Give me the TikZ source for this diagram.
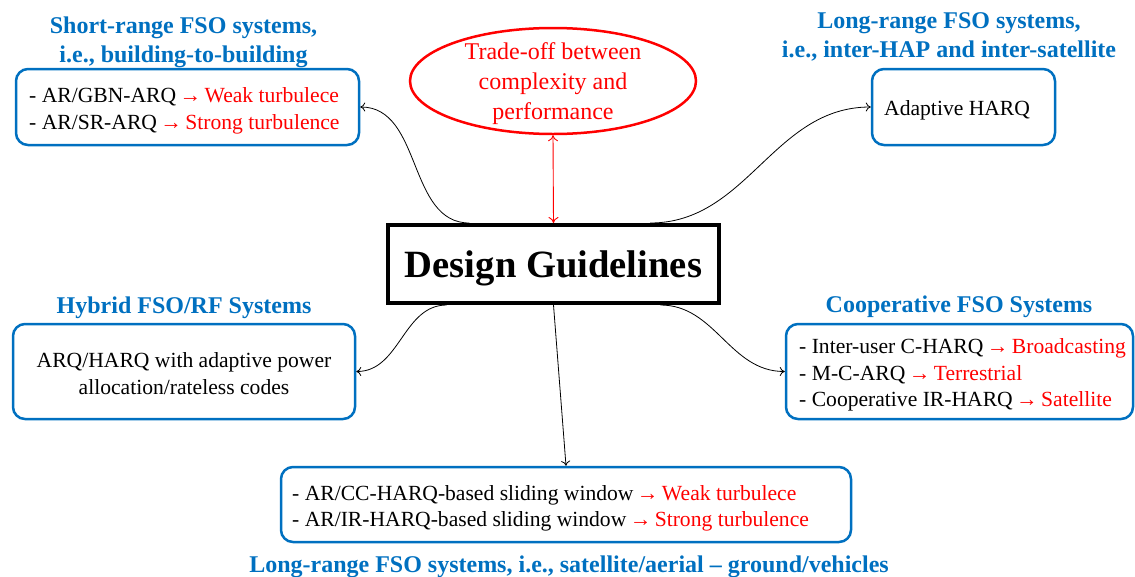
\documentclass[tikz,border=0pt]{standalone}
\usepackage{fontspec}
\setmainfont{Liberation Serif}
\usetikzlibrary{shapes.geometric,arrows.meta}
\definecolor{hblue}{RGB}{0,112,192}
\newcommand{\hot}[1]{\textcolor{red}{\kern-2pt→\kern-2pt\ #1}}

\begin{document}
\begin{tikzpicture}[x=1pt,y=-1pt,>={To[length=5pt,width=9pt]},
  box/.style={draw=hblue,line width=2.5pt,rounded corners=12pt},
  head/.style={text=hblue,font=\fontsize{24}{29}\selectfont\bfseries,align=center},
  body/.style={font=\fontsize{21.6}{26.5}\selectfont,align=left,inner sep=0pt}]
\useasboundingbox (0,0) rectangle (1135,576);
\node[head] (hsr) at (183.5,42.5) {Short-range FSO systems,\\i.e., building-to-building};
\node[head] (hlr) at (949,37) {Long-range FSO systems,\\i.e., inter-HAP and inter-satellite};
\node[head] (hhy) at (184,308) {Hybrid FSO/RF Systems};
\node[head] (hco) at (959,307) {Cooperative FSO Systems};
\node[head] (hgv) at (569,566.5) {Long-range FSO systems, i.e., satellite/aerial -- ground/vehicles};
\node[draw=red,line width=2.5pt,ellipse,minimum width=286pt,minimum height=106pt] (tr) at (553,81) {};
\node[text=red,align=center,font=\fontsize{24}{30}\selectfont] (trt) at ([yshift=-3pt]tr.center) {Trade-off between\\complexity and\\performance};
\node[draw,line width=4pt,minimum width=331pt,minimum height=78pt,text depth=0pt,font=\fontsize{38.6}{40}\selectfont\bfseries] (dg) at (553.5,264) {Design Guidelines};
\node[box,minimum width=343pt,minimum height=76pt] (sr) at (187.5,107) {};
\node[body,anchor=west] (srt) at ([xshift=14.25pt,yshift=-4pt]sr.west) {- AR/GBN-ARQ \hot{Weak turbulece}\\- AR/SR-ARQ \hot{Strong turbulence}};
\node[box,minimum width=183pt,minimum height=76pt] (lr) at (963.5,107) {};
\node[body,anchor=west] (lrt) at ([xshift=13.25pt,yshift=-3pt]lr.west) {Adaptive HARQ};
\node[box,minimum width=342pt,minimum height=95pt] (hy) at (184,371.5) {};
\node[body,align=center] (hyt) at ([yshift=-2pt]hy.center) {ARQ/HARQ with adaptive power\\allocation/rateless codes};
\node[box,minimum width=347pt,minimum height=95pt] (co) at (959.5,371.5) {};
\node[body,anchor=west] (cot) at ([xshift=14.25pt,yshift=-3.5pt]co.west) {- Inter-user C-HARQ \hot{Broadcasting}\\- M-C-ARQ \hot{Terrestrial}\\- Cooperative IR-HARQ \hot{Satellite}};
\node[box,minimum width=570pt,minimum height=75pt] (gv) at (566,504.5) {};
\node[body,anchor=west] (gvt) at ([xshift=12.25pt,yshift=-4pt]gv.west) {- AR/CC-HARQ-based sliding window \hot{Weak turbulece}\\- AR/IR-HARQ-based sliding window \hot{Strong turbulence}};
\draw[->,line width=0.8pt] (dg.154.7) to[out=180,in=0] (sr.east);
\draw[->,line width=0.8pt] (dg.23.3) to[out=0,in=180] (lr.west);
\draw[->,line width=0.8pt] (dg.201.8) to[out=180,in=0] (hy.east);
\draw[->,line width=0.8pt] (dg.339) to[out=0,in=180] (co.west);
\draw[->,line width=0.8pt] (dg.south) -- (gv.north);
\draw[red,{To[length=6pt,width=10pt]}-{To[length=6pt,width=10pt]},line width=0.9pt] (tr.south) -- (dg.north);
\end{tikzpicture}
\end{document}
